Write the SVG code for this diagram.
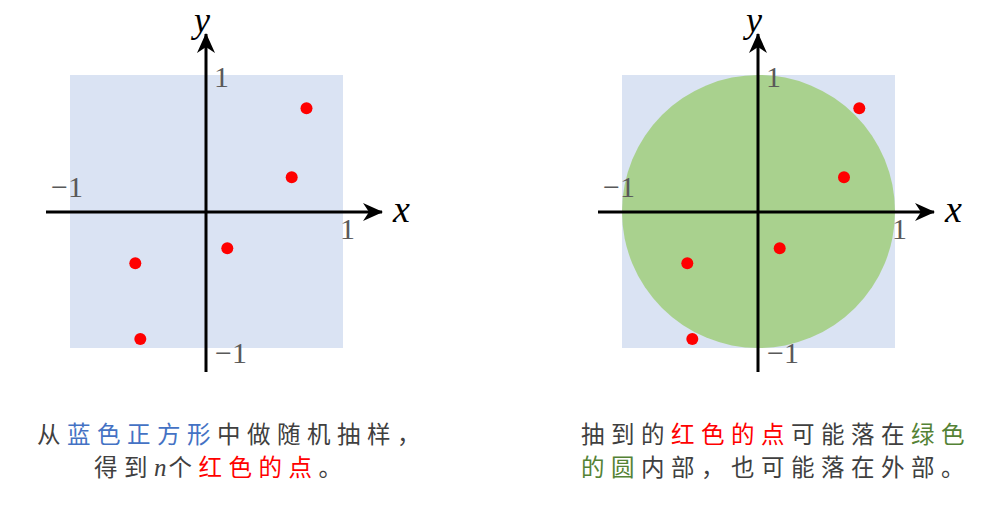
<svg xmlns="http://www.w3.org/2000/svg" width="983" height="524" viewBox="0 0 983 524">
<defs>
<style>
.sq{fill:#DAE3F3}
.circ{fill:#A9D18E}
.axis{stroke:#000;stroke-width:3;fill:none}
.dot{fill:#FF0000}
.tick{font-family:"Liberation Serif",serif;font-size:30px;fill:#595959}
.var{font-family:"Liberation Serif",serif;font-style:italic;font-size:38px;fill:#000}
.vy{font-size:36px}
.cap{font-family:"Noto Sans CJK SC",sans-serif;font-size:23.5px;letter-spacing:6.5px;fill:#404040}
.blue{fill:#4472C4}
.red{fill:#FF0000}
.green{fill:#548235}
.n{font-family:"Liberation Serif",serif;font-style:italic;font-size:25px;letter-spacing:2px}
</style>
<marker id="arr" viewBox="0 0 20 18" refX="19" refY="9" markerWidth="20" markerHeight="18" markerUnits="userSpaceOnUse" orient="auto">
<path d="M0,0 L20,9 L0,18 L6,9 Z" fill="#000"/>
</marker>
</defs>

<g id="left-panel">
<rect class="sq" x="70" y="75" width="273" height="273"/>
<g id="left-connectors">
<line class="axis" x1="46" y1="212" x2="382" y2="212" marker-end="url(#arr)"/>
<line class="axis" x1="206" y1="372" x2="206" y2="34" marker-end="url(#arr)"/>
</g>
<g id="left-points">
<circle class="dot" cx="306.5" cy="108.3" r="6"/>
<circle class="dot" cx="291.7" cy="177.3" r="6"/>
<circle class="dot" cx="227.3" cy="248.3" r="6"/>
<circle class="dot" cx="135.3" cy="263.3" r="6"/>
<circle class="dot" cx="140.3" cy="339" r="6"/>
</g>
<g id="left-labels">
<text class="tick" x="214" y="87">1</text>
<text class="tick" x="51" y="197">−1</text>
<text class="tick" x="340" y="239">1</text>
<text class="tick" x="215" y="363">−1</text>
<text class="var" x="393" y="222">x</text>
<text class="var vy" x="194" y="32">y</text>
</g>
</g>

<g id="right-panel">
<rect class="sq" x="622" y="75" width="273" height="273"/>
<circle class="circ" cx="758.5" cy="211.5" r="136.5"/>
<g id="right-connectors">
<line class="axis" x1="598" y1="212" x2="934" y2="212" marker-end="url(#arr)"/>
<line class="axis" x1="758" y1="372" x2="758" y2="34" marker-end="url(#arr)"/>
</g>
<g id="right-points">
<circle class="dot" cx="859.3" cy="108.3" r="6"/>
<circle class="dot" cx="844" cy="177.3" r="6"/>
<circle class="dot" cx="779.7" cy="248.3" r="6"/>
<circle class="dot" cx="687.3" cy="263.3" r="6"/>
<circle class="dot" cx="692.3" cy="339" r="6"/>
</g>
<g id="right-labels">
<text class="tick" x="766" y="87">1</text>
<text class="tick" x="603" y="197">−1</text>
<text class="tick" x="892" y="239">1</text>
<text class="tick" x="767" y="363">−1</text>
<text class="var" x="945" y="222">x</text>
<text class="var vy" x="746" y="32">y</text>
</g>
</g>

<g id="left-caption">
<text class="cap" x="37" y="443">从<tspan class="blue">蓝色正方形</tspan>中做随机抽样，</text>
<text class="cap" x="94" y="476">得到<tspan class="n">n</tspan>个<tspan class="red">红色的点</tspan>。</text>
</g>
<g id="right-caption">
<text class="cap" x="581" y="443">抽到的<tspan class="red">红色的点</tspan>可能落在<tspan class="green">绿色</tspan></text>
<text class="cap" x="581" y="476"><tspan class="green">的圆</tspan>内部，也可能落在外部。</text>
</g>
</svg>
